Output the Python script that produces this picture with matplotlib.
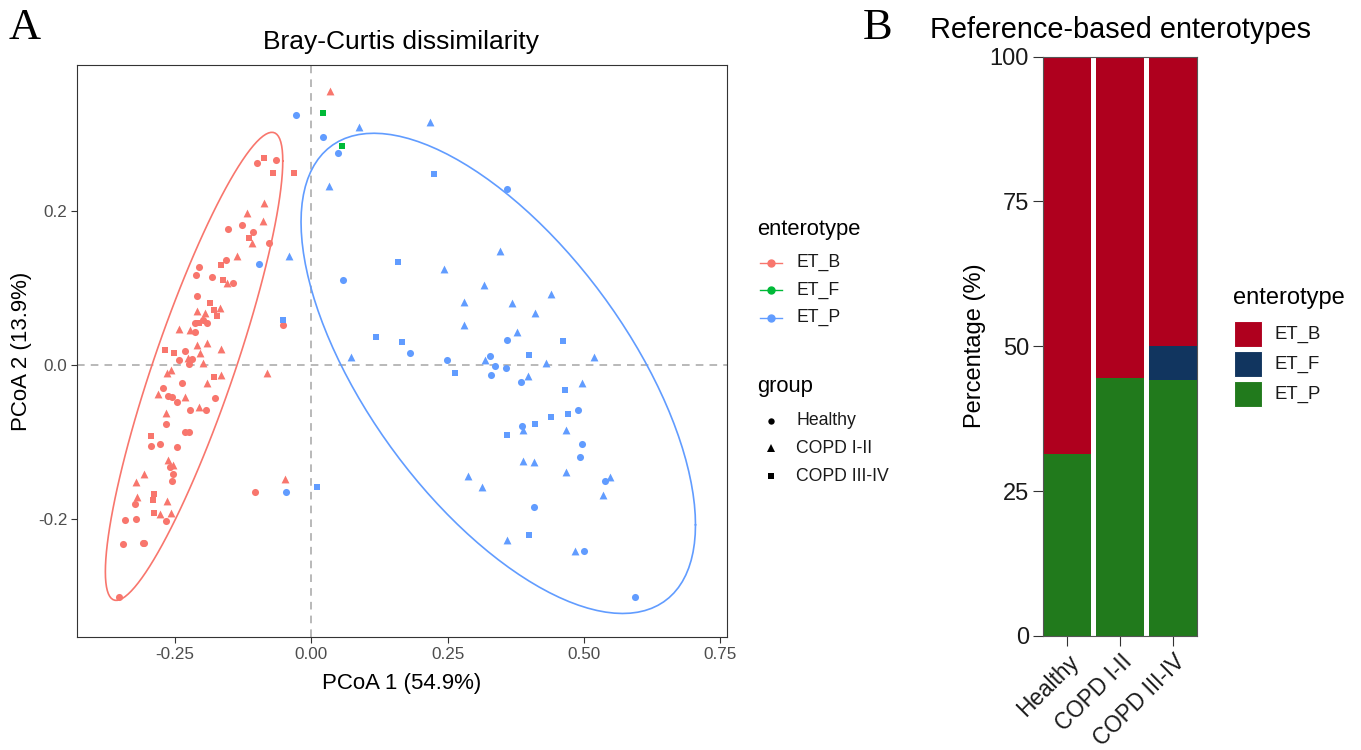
import numpy as np
import matplotlib
matplotlib.use("Agg")
import matplotlib.pyplot as plt
from matplotlib.lines import Line2D
from matplotlib.patches import Rectangle

# ---------------- data: PCoA coordinates ----------------
# ET_B
B_healthy_pc1 = [-0.100, -0.065, -0.152, -0.127, -0.106, -0.077, -0.157, -0.206, -0.211, -0.182,
                 -0.143, -0.210, -0.198, -0.213, -0.192, -0.214, -0.051, -0.232, -0.242, -0.218,
                 -0.225, -0.237, -0.271, -0.263, -0.255, -0.247, -0.176, -0.222, -0.193, -0.267,
                 -0.231, -0.225, -0.293, -0.277, -0.246, -0.259, -0.253, -0.255, -0.323, -0.342,
                 -0.321, -0.266, -0.346, -0.309, -0.306, -0.353, -0.103]
B_healthy_pc2 = [0.262, 0.266, 0.176, 0.182, 0.173, 0.159, 0.137, 0.127, 0.117, 0.114,
                 0.106, 0.090, 0.059, 0.054, 0.054, 0.043, 0.052, 0.018, 0.006, 0.008,
                 0.001, -0.023, -0.030, -0.040, -0.042, -0.048, -0.043, -0.058, -0.059, -0.076,
                 -0.087, -0.087, -0.105, -0.102, -0.107, -0.132, -0.142, -0.151, -0.181, -0.201,
                 -0.200, -0.203, -0.232, -0.231, -0.231, -0.301, -0.165]
B_copd12_pc1 = [-0.087, -0.118, -0.089, -0.108, -0.136, -0.168, -0.209, -0.195, -0.242, -0.222,
                -0.209, -0.192, -0.165, -0.204, -0.226, -0.198, -0.257, -0.264, -0.081, -0.166,
                -0.192, -0.281, -0.231, -0.205, -0.267, -0.263, -0.253, -0.306, -0.321, -0.320,
                -0.265, -0.278, -0.257, -0.049, 0.034, -0.155]
B_copd12_pc2 = [0.211, 0.198, 0.187, 0.158, 0.141, 0.074, 0.070, 0.067, 0.047, 0.046,
                0.026, 0.028, 0.021, 0.016, 0.009, 0.003, -0.007, -0.011, -0.011, -0.013,
                -0.024, -0.038, -0.042, -0.055, -0.062, -0.123, -0.130, -0.141, -0.152, -0.172,
                -0.177, -0.193, -0.192, -0.148, 0.356, 0.107]
B_copd34_pc1 = [-0.087, -0.071, -0.031, -0.115, -0.166, -0.161, -0.185, -0.179, -0.173, -0.206,
                -0.268, -0.252, -0.179, -0.293, -0.288, -0.290, -0.288]
B_copd34_pc2 = [0.269, 0.250, 0.250, 0.165, 0.130, 0.110, 0.080, 0.072, 0.064, 0.054,
                0.020, 0.016, -0.015, -0.092, -0.168, -0.175, -0.192]
# ET_F
F_copd34_pc1 = [0.021, 0.057]
F_copd34_pc2 = [0.327, 0.285]
# ET_P
P_healthy_pc1 = [-0.028, 0.021, 0.049, 0.359, -0.096, 0.058, 0.181, 0.249, 0.328, 0.337,
                 0.357, 0.359, 0.329, 0.385, 0.490, 0.387, 0.497, 0.493, 0.538, 0.409,
                 0.500, 0.593, -0.046]
P_healthy_pc2 = [0.325, 0.296, 0.275, 0.229, 0.131, 0.110, 0.015, 0.007, 0.012, -0.001,
                 -0.004, 0.033, -0.013, -0.022, -0.059, -0.079, -0.102, -0.120, -0.151, -0.184,
                 -0.242, -0.301, -0.165]
P_copd12_pc1 = [0.087, 0.217, 0.032, -0.041, 0.243, 0.317, 0.280, 0.281, 0.072, 0.318,
                0.347, 0.369, 0.440, 0.411, 0.377, 0.431, 0.519, 0.398, 0.497, 0.388,
                0.468, 0.388, 0.408, 0.467, 0.547, 0.535, 0.287, 0.313, 0.359, 0.484]
P_copd12_pc2 = [0.309, 0.316, 0.233, 0.141, 0.125, 0.104, 0.082, 0.052, 0.010, 0.007,
                0.148, 0.081, 0.092, 0.068, 0.043, 0.003, 0.011, -0.014, -0.023, -0.085,
                -0.085, -0.124, -0.126, -0.139, -0.146, -0.169, -0.144, -0.159, -0.227, -0.241]
P_copd34_pc1 = [0.225, 0.159, 0.118, 0.166, 0.263, 0.461, 0.399, 0.466, 0.470, 0.440,
                0.410, 0.359, 0.399, -0.052, 0.010]
P_copd34_pc2 = [0.248, 0.134, 0.036, 0.030, -0.011, 0.031, 0.013, -0.033, -0.064, -0.068,
                -0.077, -0.091, -0.221, 0.059, -0.159]

enterotypes = ["ET_B", "ET_F", "ET_P"]
groups = ["Healthy", "COPD I-II", "COPD III-IV"]
x_ticks_A = [-0.25, 0.00, 0.25, 0.50, 0.75]
y_ticks_A = [-0.2, 0.0, 0.2]

# ---------------- data: enterotype percentages per group ----------------
pct_ET_P = [31.4, 44.6, 44.1]
pct_ET_F = [0.0, 0.0, 5.9]
pct_ET_B = [68.6, 55.4, 50.0]
y_ticks_B = [0, 25, 50, 75, 100]

# ---------------- styling ----------------
FONT = "Liberation Sans"
plt.rcParams["font.family"] = [FONT, "DejaVu Sans"]
ET_COL = {"ET_B": "#F8766D", "ET_F": "#00BA38", "ET_P": "#619CFF"}
BAR_COL = {"ET_B": "#AF001E", "ET_F": "#11355F", "ET_P": "#217A1C"}
MARK = {"Healthy": ("o", 26), "COPD I-II": ("^", 32), "COPD III-IV": ("s", 22)}

W, H = 1361, 750
fig = plt.figure(figsize=(W / 100, H / 100), dpi=100)


def fx(px):
    return px / W


def fy(py):
    return 1 - py / H


def trob_ellipse(x, y, level=0.95, nu=5, maxit=25, tol=0.01, seg=120):
    X = np.column_stack([x, y]).astype(float)
    n, p = X.shape
    loc = X.mean(axis=0)
    w = np.ones(n)
    Xc = X - loc
    for _ in range(maxit):
        w0 = w
        Xc = X - loc
        S = (w[:, None] * Xc).T @ Xc / w.sum()
        Q = np.einsum("ij,jk,ik->i", Xc, np.linalg.inv(S), Xc)
        w = (nu + p) / (nu + Q)
        loc = (w[:, None] * X).sum(axis=0) / w.sum()
        if np.all(np.abs(w - w0) < tol):
            break
    cov = (w[:, None] * Xc).T @ Xc / n
    dfd = n - 1
    fq = (dfd / 2.0) * ((1 - level) ** (-2.0 / dfd) - 1)
    radius = np.sqrt(2 * fq)
    U = np.linalg.cholesky(cov).T
    ang = np.linspace(0, 2 * np.pi, seg + 1)
    circ = np.column_stack([np.cos(ang), np.sin(ang)])
    ell = loc + radius * circ @ U
    return ell[:, 0], ell[:, 1]


# ======================= Panel A =======================
axA = fig.add_axes([fx(77), fy(637), fx(727) - fx(77), fy(65) - fy(637)])
axA.set_xlim(-0.4296, 0.7624)
axA.set_ylim(-0.3532, 0.3896)

axA.axvline(0, color="#A6A6A6", lw=1.1, ls=(0, (5, 4)), zorder=1)
axA.axhline(0, color="#A6A6A6", lw=1.1, ls=(0, (5, 4)), zorder=1)

series = [
    ("ET_B", "Healthy", B_healthy_pc1, B_healthy_pc2),
    ("ET_B", "COPD I-II", B_copd12_pc1, B_copd12_pc2),
    ("ET_B", "COPD III-IV", B_copd34_pc1, B_copd34_pc2),
    ("ET_F", "COPD III-IV", F_copd34_pc1, F_copd34_pc2),
    ("ET_P", "Healthy", P_healthy_pc1, P_healthy_pc2),
    ("ET_P", "COPD I-II", P_copd12_pc1, P_copd12_pc2),
    ("ET_P", "COPD III-IV", P_copd34_pc1, P_copd34_pc2),
]
for et, grp, xs, ys in series:
    m, s = MARK[grp]
    axA.scatter(xs, ys, marker=m, s=s, color=ET_COL[et], linewidths=0, zorder=3)

for et in ["ET_B", "ET_P"]:
    xs = np.concatenate([np.asarray(s[2]) for s in series if s[0] == et])
    ys = np.concatenate([np.asarray(s[3]) for s in series if s[0] == et])
    ex, ey = trob_ellipse(xs, ys)
    axA.plot(ex, ey, color=ET_COL[et], lw=1.2, zorder=2)

axA.set_xticks(x_ticks_A)
axA.set_xticklabels([f"{v:.2f}" for v in x_ticks_A])
axA.set_yticks(y_ticks_A)
axA.set_yticklabels([f"{v:.1f}" for v in y_ticks_A])
axA.tick_params(axis="both", direction="out", length=4, width=0.8, color="#333333",
                labelsize=12.3, labelcolor="#4D4D4D")
axA.tick_params(axis="x", pad=3)
axA.tick_params(axis="y", pad=3)
for sp in axA.spines.values():
    sp.set_color("#333333")
    sp.set_linewidth(0.8)

fig.text(fx(402), fy(684), "PCoA 1 (54.9%)", ha="center", va="center", fontsize=16)
fig.text(fx(22), fy(351), "PCoA 2 (13.9%)", ha="center", va="center", rotation=90, fontsize=16)
fig.text(fx(401), fy(42), "Bray-Curtis dissimilarity", ha="center", va="center", fontsize=19)
fig.text(fx(25), fy(28), "A", ha="center", va="center", fontsize=32, family="Liberation Serif")

# legend A (enterotype)
fig.text(fx(757), fy(229), "enterotype", ha="left", va="center", fontsize=15.8)
for et, py in zip(enterotypes, [262.7, 290, 317.5]):
    fig.add_artist(Line2D([fx(760), fx(782)], [fy(py), fy(py)], color=ET_COL[et], lw=1.0))
    fig.add_artist(Line2D([fx(771)], [fy(py)], marker="o", ms=5, color=ET_COL[et], lw=0))
    fig.text(fx(796), fy(py), et, ha="left", va="center", fontsize=12.7, color="#1A1A1A")
# legend A (group)
fig.text(fx(757), fy(386), "group", ha="left", va="center", fontsize=15.8)
for grp, py in zip(groups, [420.7, 448, 476]):
    m, s = MARK[grp]
    fig.add_artist(Line2D([fx(771)], [fy(py)], marker=m, ms=np.sqrt(s) * 0.9,
                          color="black", lw=0, mew=0))
    fig.text(fx(796), fy(py), grp, ha="left", va="center", fontsize=12.7, color="#1A1A1A")

# ======================= Panel B =======================
axB = fig.add_axes([fx(1043), fy(636), fx(1197) - fx(1043), fy(56.5) - fy(636)])
xpos = np.arange(1, len(groups) + 1)
axB.bar(xpos, pct_ET_P, width=0.9, color=BAR_COL["ET_P"], linewidth=0)
axB.bar(xpos, pct_ET_F, width=0.9, bottom=pct_ET_P, color=BAR_COL["ET_F"], linewidth=0)
axB.bar(xpos, pct_ET_B, width=0.9, bottom=np.add(pct_ET_P, pct_ET_F), color=BAR_COL["ET_B"], linewidth=0)
axB.set_xlim(0.55, 3.45)
axB.set_ylim(0, 100)
axB.set_yticks(y_ticks_B)
axB.set_xticks(xpos)
axB.set_xticklabels(groups, rotation=45, ha="right", rotation_mode="anchor")
axB.tick_params(axis="both", direction="out", length=7, width=0.8, color="#333333",
                labelsize=17, labelcolor="#1A1A1A")
axB.tick_params(axis="x", pad=3, labelsize=16.3)
axB.tick_params(axis="y", pad=3)
for sp in axB.spines.values():
    sp.set_color("#555555")
    sp.set_linewidth(0.8)

fig.text(fx(975), fy(346), "Percentage (%)", ha="center", va="center", rotation=90, fontsize=17)
fig.text(fx(1120), fy(30), "Reference-based enterotypes", ha="center", va="center", fontsize=20.8)
fig.text(fx(878), fy(28), "B", ha="center", va="center", fontsize=32, family="Liberation Serif")

# legend B
fig.text(fx(1233), fy(298), "enterotype", ha="left", va="center", fontsize=17)
for et, (top, bot) in zip(enterotypes, [(320.7, 347.3), (350.7, 377.3), (380.7, 407.3)]):
    fig.add_artist(Rectangle((fx(1234), fy(bot)), fx(1262) - fx(1234), fy(top) - fy(bot),
                             transform=fig.transFigure, facecolor=BAR_COL[et],
                             edgecolor="white", lw=0.8))
    fig.text(fx(1275), fy((top + bot) / 2), et, ha="left", va="center", fontsize=13.4, color="#1A1A1A")

fig.savefig("out.png", dpi=100, facecolor="white")
